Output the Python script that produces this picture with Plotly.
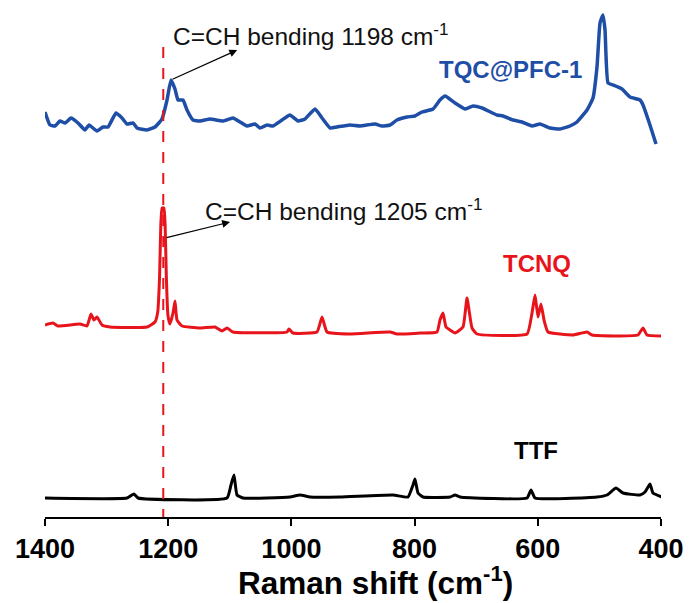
import plotly.graph_objects as go

# ---------------- data ----------------
tqc_x = [1400, 1391.9, 1383.8, 1375.6, 1367.5, 1357.8, 1346.4, 1335.1, 1328.6, 1315.6, 1305.8, 1297.7,
         1284.7, 1275.0, 1266.9, 1257.1, 1250.6, 1234.4, 1221.4, 1210.1, 1201.9, 1195.5, 1189.0, 1184.1,
         1176.0, 1169.5, 1159.7, 1148.4, 1132.1, 1111.0, 1094.8, 1083.4, 1072.1, 1059.1, 1051.0, 1039.6,
         1029.9, 1015.3, 1002.3, 989.3, 977.9, 961.7, 950.3, 937.3, 926.0, 904.9, 888.6, 864.3, 852.9,
         839.9, 828.6, 812.3, 799.4, 788.0, 770.1, 758.8, 750.6, 734.4, 718.2, 705.2, 690.6, 666.2, 656.5,
         640.3, 625.6, 609.4, 596.4, 580.2, 564.0, 547.7, 536.4, 520.1, 510.4, 503.9, 499.0, 494.2, 490.9,
         486.0, 477.9, 463.3, 450.3, 434.1, 429.2, 417.9, 408.1]
tqc_y = [25, 12, 11, 16, 14, 19, 14, 7, 12, 6, 10, 10,
         24, 19, 13, 14, 9, 7, 10, 18, 37, 57, 48, 37,
         37, 27, 17, 16, 18, 16, 19, 15, 11, 13, 9, 12,
         11, 17, 22, 16, 18, 28, 19, 9, 10, 12, 11, 13, 11,
         12, 17, 20, 21, 25, 28, 37, 41, 34, 28, 31, 29, 22, 21,
         17, 15, 11, 13, 9, 8, 11, 15, 27, 39, 70, 114, 122, 107,
         54, 52, 48, 40, 37, 32, 12, -7]

tcnq_x = [1400, 1387.0, 1378.9, 1343.2, 1331.8, 1325.3, 1320.5, 1315.6, 1307.5, 1294.5, 1234.4, 1221.4,
          1217.0, 1214.0, 1212.0, 1210.0, 1207.0, 1205.0, 1203.0, 1200.5, 1197.1, 1192.2, 1189.0, 1185.7,
          1177.6, 1148.4, 1124.0,
          1112.7, 1104.5, 1094.8, 1007.1, 1003.9, 997.4, 958.4, 950.3, 942.2, 904.9, 839.9, 828.6, 791.2,
          763.6, 758.8, 753.9, 749.0, 742.5, 734.4, 721.4, 714.9, 706.8, 698.7, 617.5, 609.4, 604.5, 599.7,
          594.8, 589.9, 583.4, 542.9, 520.1, 512.0, 437.3, 429.2, 422.7, 398.4]
tcnq_y = [12, 14, 11, 13, 11, 23, 17, 20, 12, 10, 10, 15,
          25, 60, 112, 129, 129, 112, 60, 22, 13, 24, 36, 17,
          11, 9, 10,
          6, 9, 5, 5, 8, 4, 5, 20, 5, 3, 5, 3, 4,
          5, 17, 24, 10, 7, 4, 10, 39, 9, 3, 3, 24, 42, 20,
          33, 17, 5, 2, 5, 2, 2, 9, 2, 1]

ttf_x = [1400, 1266.9, 1255.5, 1249.0, 1104.5, 1098.1, 1093.2, 1088.3, 1078.6, 1002.3, 986.0, 969.8,
         921.1, 835.1, 810.7, 802.6, 799.4, 794.5, 786.4, 742.5, 734.4, 726.3, 617.5, 611.0, 604.5,
         503.9, 487.7, 473.1, 461.7, 434.1, 426.0, 417.9, 413.0, 398.4]
ttf_y = [1, 1, 5, 1, 1, 14, 24, 4, 1, 2, 4, 2,
         2, 4, 2, 14, 20, 6, 2, 2, 4, 2, 1, 9, 1,
         2, 4, 11, 6, 4, 7, 15, 6, 2]

offsets = {"TQC@PFC-1": 380, "TCNQ": 180, "TTF": 18}
tick_vals = [1400, 1200, 1000, 800, 600, 400]
marker_line_x = 1208

BLUE = "#1f4ea6"
RED = "#e8141c"
BLACK = "#000000"
FONT = "Arial, Liberation Sans, sans-serif"

fig = go.Figure()
fig.add_trace(go.Scatter(x=tqc_x, y=[v + offsets["TQC@PFC-1"] for v in tqc_y], mode="lines",
                         line=dict(color=BLUE, width=3.5, shape="spline", smoothing=0.4), showlegend=False))
fig.add_trace(go.Scatter(x=tcnq_x, y=[v + offsets["TCNQ"] for v in tcnq_y], mode="lines",
                         line=dict(color=RED, width=3, shape="spline", smoothing=0.4), showlegend=False))
fig.add_trace(go.Scatter(x=ttf_x, y=[v + offsets["TTF"] for v in ttf_y], mode="lines",
                         line=dict(color=BLACK, width=3, shape="spline", smoothing=0.4), showlegend=False))

fig.add_shape(type="line", x0=marker_line_x, x1=marker_line_x, y0=-3, y1=470, xref="x", yref="y",
              line=dict(color=RED, width=2, dash="11px,10px"))

# arrows
fig.add_annotation(x=1088, y=467, ax=1195.5, ay=437, xref="x", yref="y", axref="x", ayref="y",
                   text="", showarrow=True, arrowhead=2, arrowsize=1.3, arrowwidth=1.2, arrowcolor="black")
fig.add_annotation(x=1099.7, y=295, ax=1205, ay=279, xref="x", yref="y", axref="x", ayref="y",
                   text="", showarrow=True, arrowhead=2, arrowsize=1.3, arrowwidth=1.2, arrowcolor="black")

fig.add_annotation(x=1196, y=483, xref="x", yref="y", xanchor="left", yanchor="middle", showarrow=False,
                   text="C=CH bending 1198 cm<sup>-1</sup>", font=dict(family=FONT, size=24.5, color="#111111"))
fig.add_annotation(x=1143, y=308, xref="x", yref="y", xanchor="left", yanchor="middle", showarrow=False,
                   text="C=CH bending 1205 cm<sup>-1</sup>", font=dict(family=FONT, size=24.5, color="#111111"))

fig.add_annotation(x=645, y=448, xref="x", yref="y", showarrow=False, text="<b>TQC@PFC-1</b>",
                   font=dict(family=FONT, size=24, color=BLUE))
fig.add_annotation(x=601, y=254, xref="x", yref="y", showarrow=False, text="<b>TCNQ</b>",
                   font=dict(family=FONT, size=24, color=RED))
fig.add_annotation(x=603, y=67, xref="x", yref="y", showarrow=False, text="<b>TTF</b>",
                   font=dict(family=FONT, size=24, color=BLACK))

# axis title
fig.add_annotation(x=375, y=603 - 581, xref="paper", yref="paper", showarrow=False,
                   text="<b>Raman shift (cm<sup>-1</sup>)</b>", font=dict(family=FONT, size=31.5, color="black"),
                   xanchor="center", yanchor="middle")

fig.update_layout(
    width=691, height=603,
    margin=dict(l=45, r=30, t=5, b=86),
    paper_bgcolor="white", plot_bgcolor="white",
    font=dict(family=FONT, color="black"),
    xaxis=dict(range=[1400, 400], tickvals=tick_vals, ticktext=[f"<b>{v}</b>" for v in tick_vals],
               ticks="outside", ticklen=7, tickwidth=2, tickcolor="black",
               showline=True, linewidth=2, linecolor="black", showgrid=False, zeroline=False,
               tickfont=dict(family=FONT, size=27, color="black")),
    yaxis=dict(range=[0, 512], visible=False, showgrid=False, zeroline=False),
)
# paper-coordinate annotation for title: convert pixel positions to paper fractions
fig.layout.annotations[-1].update(x=(375 - 45) / (691 - 75), y=(517 - 581) / 512)

fig.write_html("out.html")
